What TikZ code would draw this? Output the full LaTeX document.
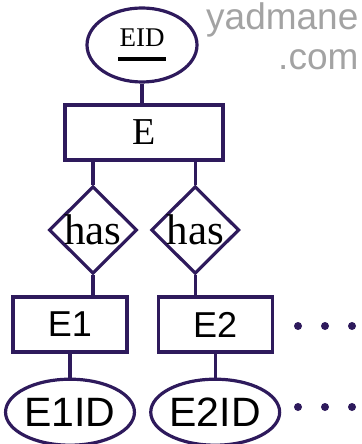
\documentclass[tikz,border=0pt]{standalone}
\usepackage{fontspec}
\setmainfont{Liberation Serif}
\setsansfont{Liberation Sans}
\usetikzlibrary{positioning,shapes.geometric}
\definecolor{erline}{HTML}{2E1A5C}
\definecolor{wmark}{HTML}{A3A3A3}
\newcommand{\fsz}[1]{\fontsize{#1bp}{#1bp}\selectfont}

\begin{document}
\begin{tikzpicture}[x=1bp,y=-1bp,line width=3.2bp,
  entity/.style={draw=erline,rectangle,inner sep=0pt,minimum height=55bp},
  attrib/.style={draw=erline,ellipse,inner sep=0pt},
  relship/.style={draw=erline,diamond,inner sep=0pt,minimum width=88bp,minimum height=85bp,font=\fsz{43}},
  link/.style={draw=erline},
  watermark/.style={text=wmark,inner sep=0pt,anchor=base east,font=\sffamily\fsz{37}}]
\useasboundingbox (0,0) rectangle (361,444);
\node[watermark] (site) at (360,30) {yadmane};
\node[watermark] (dom) at (360,70) {.com};
% entities, keys and relationships
\node[attrib,minimum width=110bp,minimum height=74bp,font=\fsz{27}] (eid) at (142,45)
  {\makebox[48bp][c]{EID}\llap{\rule[-14bp]{48bp}{4bp}}};
\node[entity,minimum width=158bp,font=\fsz{38}] (e) at (144,132.5) {E};
\node[relship] (has1) at (93,230) {has};
\node[relship,right=11bp of has1] (has2) {has};
\node[entity,minimum width=114bp,font=\sffamily\fsz{36}] (e1) at (70,324.5) {E1};
\node[entity,minimum width=114bp,font=\sffamily\fsz{36},right=28bp of e1] (e2) {E2};
\node[attrib,minimum width=106bp,minimum height=66bp,font=\sffamily\fsz{41},below=24bp of e1] (e1id) {E1ID};
\node[attrib,minimum width=104bp,minimum height=66bp,font=\sffamily\fsz{41},below=24bp of e2] (e2id) {E2ID};
% connectors
\draw[link] (eid) -- (eid |- e.north);
\draw[link] (has1) -- (has1 |- e.south);
\draw[link] (has2) -- (has2 |- e.south);
\draw[link] (has1) -- (has1 |- e1.north);
\draw[link] (has2) -- (has2 |- e2.north);
\draw[link] (e1) -- (e1id);
\draw[link] (e2) -- (e2id);
% more subtypes
\foreach \dx in {298,325,352} {
  \fill[erline] (\dx,326) circle (4bp);
  \fill[erline] (\dx,407) circle (4bp);
}
\end{tikzpicture}
\end{document}
